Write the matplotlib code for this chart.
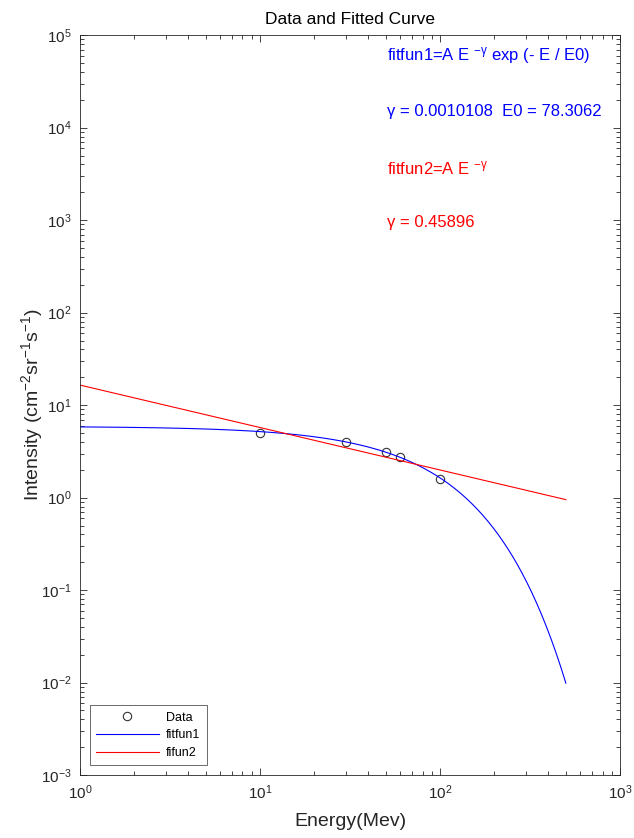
import numpy as np
import matplotlib
matplotlib.use('Agg')
import matplotlib.pyplot as plt
from matplotlib.ticker import LogLocator, FuncFormatter, NullFormatter

plt.rcParams['font.family'] = ['Liberation Sans', 'DejaVu Sans']
plt.rcParams['mathtext.fontset'] = 'custom'
plt.rcParams['mathtext.rm'] = 'Liberation Sans'
plt.rcParams['mathtext.it'] = 'Liberation Sans'
plt.rcParams['mathtext.default'] = 'regular'

# Measured points
energy = [10, 30, 50, 60, 100]
intensity = [4.98, 3.98, 3.1, 2.74, 1.58]

# Fit parameters (gamma, E0 from the chart labels; amplitudes)
gamma1 = 0.0010108
e0 = 78.3062
amp1 = 5.9
gamma2 = 0.45896
amp2 = 16.5
e_min, e_max = 1, 500

e_fit = np.logspace(np.log10(e_min), np.log10(e_max), 400)
fit1 = amp1 * e_fit ** (-gamma1) * np.exp(-e_fit / e0)
fit2 = amp2 * e_fit ** (-gamma2)

AX_COLOR = '#262626'

fig = plt.figure(figsize=(6.34, 8.38), dpi=100)
ax = fig.add_axes([0.126, 0.075, 0.852, 0.883])

ax.plot(energy, intensity, 'o', mfc='none', mec='#333333', ms=6, mew=0.8, label='Data')
ax.plot(e_fit, fit1, color='#0000ff', lw=0.8, label='fitfun1')
ax.plot(e_fit, fit2, color='#ff0000', lw=0.8, label='fifun2')

ax.set_xscale('log')
ax.set_yscale('log')
ax.set_xlim(1, 1e3)
ax.set_ylim(1e-3, 1e5)

ax.xaxis.set_major_locator(LogLocator(base=10, numticks=10))
ax.yaxis.set_major_locator(LogLocator(base=10, numticks=20))
ax.xaxis.set_minor_locator(LogLocator(base=10, subs=np.arange(2, 10), numticks=20))
ax.yaxis.set_minor_locator(LogLocator(base=10, subs=np.arange(2, 10), numticks=20))
fmt = FuncFormatter(lambda v, p: '10$^{%d}$' % int(round(np.log10(v))))
ax.xaxis.set_major_formatter(fmt)
ax.yaxis.set_major_formatter(fmt)
ax.xaxis.set_minor_formatter(NullFormatter())
ax.yaxis.set_minor_formatter(NullFormatter())

ax.tick_params(which='both', direction='in', top=True, right=True,
               colors=AX_COLOR, labelsize=11)
ax.tick_params(which='major', length=5, width=0.6, pad=6)
ax.tick_params(which='minor', length=3, width=0.6)
for s in ax.spines.values():
    s.set_color(AX_COLOR)
    s.set_linewidth(0.6)

ax.set_title('Data and Fitted Curve', fontsize=12.5, color='black', pad=8)
ax.set_xlabel('Energy(Mev)', fontsize=14, color=AX_COLOR, labelpad=8)
ax.set_ylabel('Intensity (cm$^{-2}$sr$^{-1}$s$^{-1}$)', fontsize=14, color=AX_COLOR, labelpad=-3)

tx = 0.569
ax.text(tx, 0.973, 'fitfun1=A E $^{-γ}$ exp (- E / E0)', transform=ax.transAxes,
        color='#0000ff', fontsize=12, va='center')
ax.text(tx, 0.897, 'γ = 0.0010108  E0 = 78.3062', transform=ax.transAxes,
        color='#0000ff', fontsize=12, va='center')
ax.text(tx, 0.820, 'fitfun2=A E $^{-γ}$', transform=ax.transAxes,
        color='#ff0000', fontsize=12, va='center')
ax.text(tx, 0.747, 'γ = 0.45896', transform=ax.transAxes,
        color='#ff0000', fontsize=12, va='center')

leg = ax.legend(loc='lower left', fontsize=9, frameon=True, fancybox=False,
                edgecolor=AX_COLOR, handlelength=5, borderaxespad=0.8,
                labelspacing=0.45, handletextpad=0.6, borderpad=0.5)
leg.get_frame().set_linewidth(0.6)

fig.savefig('out.png', dpi=100)
